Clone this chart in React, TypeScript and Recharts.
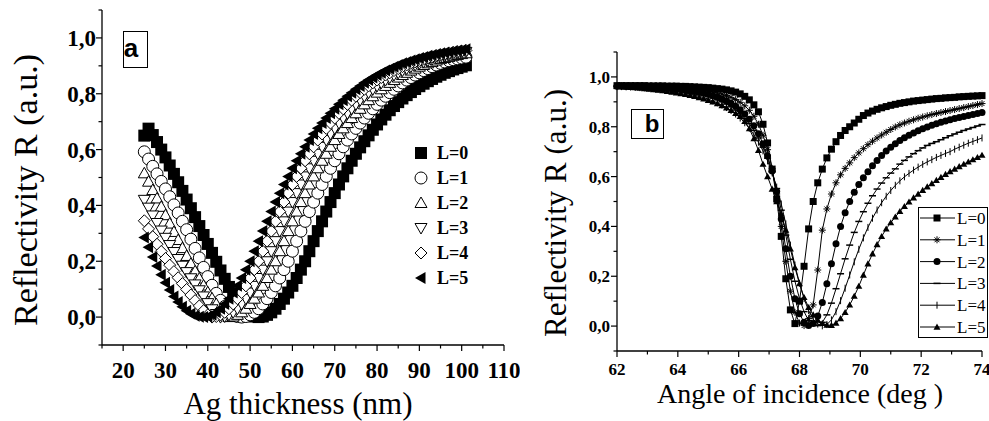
import React from "react";
import { LineChart, Line, XAxis, YAxis } from "recharts";

// ---- panel a : reflectivity vs Ag thickness ----
const thickness = [
  25, 26, 27, 28, 29, 30, 31, 32, 33, 34, 35, 36, 37, 38, 39, 40, 41, 42, 43, 44,
  45, 46, 47, 48, 49, 50, 51, 52, 53, 54, 55, 56, 57, 58, 59, 60, 61, 62, 63, 64,
  65, 66, 67, 68, 69, 70, 71, 72, 73, 74, 75, 76, 77, 78, 79, 80, 81, 82, 83, 84,
  85, 86, 87, 88, 89, 90, 91, 92, 93, 94, 95, 96, 97, 98, 99, 100, 101,
];

const reflA0 = [
  0.650, 0.675, 0.652, 0.627, 0.600, 0.572, 0.543, 0.513, 0.483, 0.452,
  0.421, 0.390, 0.358, 0.326, 0.294, 0.262, 0.230, 0.198, 0.167, 0.137,
  0.108, 0.081, 0.057, 0.036, 0.020, 0.008, 0.002, 0.000, 0.002, 0.008,
  0.017, 0.030, 0.047, 0.066, 0.088, 0.112, 0.140, 0.170, 0.200, 0.236,
  0.272, 0.308, 0.343, 0.378, 0.412, 0.444, 0.475, 0.504, 0.533, 0.560,
  0.585, 0.608, 0.630, 0.651, 0.671, 0.690, 0.708, 0.725, 0.741, 0.756,
  0.770, 0.783, 0.795, 0.806, 0.817, 0.827, 0.836, 0.845, 0.853, 0.861,
  0.868, 0.875, 0.881, 0.887, 0.892, 0.897, 0.902,
];
const reflA1 = [
  0.592, 0.566, 0.540, 0.513, 0.486, 0.459, 0.431, 0.402, 0.373, 0.343,
  0.313, 0.279, 0.246, 0.212, 0.178, 0.145, 0.114, 0.085, 0.060, 0.038,
  0.021, 0.009, 0.002, 0.000, 0.002, 0.008, 0.017, 0.030, 0.047, 0.066,
  0.088, 0.112, 0.140, 0.170, 0.200, 0.236, 0.272, 0.308, 0.343, 0.378,
  0.412, 0.444, 0.475, 0.504, 0.533, 0.560, 0.585, 0.610, 0.634, 0.656,
  0.676, 0.695, 0.713, 0.730, 0.746, 0.762, 0.777, 0.791, 0.804, 0.816,
  0.828, 0.839, 0.849, 0.858, 0.867, 0.875, 0.883, 0.890, 0.897, 0.903,
  0.909, 0.914, 0.918, 0.922, 0.925, 0.928, 0.931,
];
const reflA2 = [
  0.515, 0.485, 0.455, 0.425, 0.395, 0.365, 0.335, 0.305, 0.276, 0.247,
  0.219, 0.191, 0.164, 0.138, 0.113, 0.089, 0.067, 0.047, 0.027, 0.010,
  0.000, 0.002, 0.008, 0.017, 0.030, 0.047, 0.066, 0.088, 0.112, 0.140,
  0.170, 0.200, 0.236, 0.272, 0.308, 0.343, 0.378, 0.412, 0.444, 0.475,
  0.504, 0.533, 0.560, 0.585, 0.610, 0.634, 0.656, 0.676, 0.695, 0.713,
  0.730, 0.746, 0.762, 0.777, 0.791, 0.804, 0.816, 0.828, 0.839, 0.849,
  0.858, 0.867, 0.875, 0.883, 0.890, 0.897, 0.903, 0.909, 0.914, 0.919,
  0.924, 0.928, 0.932, 0.936, 0.939, 0.942, 0.945,
];
const reflA3 = [
  0.420, 0.392, 0.364, 0.337, 0.310, 0.284, 0.258, 0.233, 0.208, 0.184,
  0.161, 0.139, 0.117, 0.096, 0.074, 0.050, 0.028, 0.011, 0.000, 0.002,
  0.008, 0.017, 0.030, 0.047, 0.066, 0.088, 0.112, 0.140, 0.170, 0.200,
  0.236, 0.272, 0.308, 0.343, 0.378, 0.412, 0.444, 0.475, 0.504, 0.533,
  0.560, 0.585, 0.610, 0.634, 0.656, 0.676, 0.695, 0.713, 0.730, 0.746,
  0.762, 0.777, 0.791, 0.804, 0.816, 0.828, 0.839, 0.849, 0.858, 0.867,
  0.875, 0.883, 0.890, 0.897, 0.903, 0.909, 0.914, 0.919, 0.924, 0.928,
  0.932, 0.936, 0.939, 0.942, 0.945, 0.948, 0.950,
];
const reflA4 = [
  0.345, 0.316, 0.288, 0.261, 0.235, 0.210, 0.186, 0.163, 0.141, 0.120,
  0.099, 0.079, 0.059, 0.040, 0.023, 0.008, 0.000, 0.002, 0.008, 0.017,
  0.030, 0.047, 0.066, 0.088, 0.112, 0.140, 0.170, 0.200, 0.236, 0.272,
  0.308, 0.343, 0.378, 0.412, 0.444, 0.475, 0.504, 0.533, 0.560, 0.585,
  0.610, 0.634, 0.656, 0.676, 0.695, 0.713, 0.730, 0.746, 0.762, 0.777,
  0.791, 0.804, 0.816, 0.828, 0.839, 0.849, 0.858, 0.867, 0.875, 0.883,
  0.890, 0.897, 0.903, 0.909, 0.914, 0.919, 0.924, 0.928, 0.932, 0.936,
  0.939, 0.942, 0.945, 0.948, 0.950, 0.953, 0.955,
];
const reflA5 = [
  0.285, 0.250, 0.215, 0.183, 0.152, 0.123, 0.097, 0.074, 0.054, 0.037,
  0.023, 0.012, 0.005, 0.001, 0.000, 0.002, 0.008, 0.017, 0.030, 0.047,
  0.066, 0.088, 0.112, 0.140, 0.170, 0.200, 0.236, 0.272, 0.308, 0.343,
  0.378, 0.412, 0.444, 0.475, 0.504, 0.533, 0.560, 0.585, 0.610, 0.634,
  0.656, 0.676, 0.695, 0.713, 0.730, 0.746, 0.762, 0.777, 0.791, 0.804,
  0.816, 0.828, 0.839, 0.849, 0.858, 0.867, 0.875, 0.883, 0.890, 0.897,
  0.903, 0.909, 0.914, 0.919, 0.924, 0.928, 0.932, 0.936, 0.939, 0.942,
  0.945, 0.948, 0.950, 0.953, 0.955, 0.957, 0.959,
];

// ---- panel b : reflectivity vs angle of incidence ----
const angle = [
  62.0, 62.15, 62.3, 62.45, 62.6, 62.75, 62.9, 63.05, 63.2, 63.35,
  63.5, 63.65, 63.8, 63.95, 64.1, 64.25, 64.4, 64.55, 64.7, 64.85,
  65.0, 65.15, 65.3, 65.45, 65.6, 65.75, 65.9, 66.05, 66.2, 66.35,
  66.5, 66.65, 66.8, 66.95, 67.1, 67.25, 67.4, 67.55, 67.7, 67.85,
  68.0, 68.15, 68.3, 68.45, 68.6, 68.75, 68.9, 69.05, 69.2, 69.35,
  69.5, 69.65, 69.8, 69.95, 70.1, 70.25, 70.4, 70.55, 70.7, 70.85,
  71.0, 71.15, 71.3, 71.45, 71.6, 71.75, 71.9, 72.05, 72.2, 72.35,
  72.5, 72.65, 72.8, 72.95, 73.1, 73.25, 73.4, 73.55, 73.7, 73.85,
  74.0,
];

const reflB0 = [
  0.965, 0.965, 0.965, 0.965, 0.965, 0.965, 0.965, 0.964, 0.964, 0.964,
  0.964, 0.963, 0.963, 0.963, 0.962, 0.962, 0.961, 0.960, 0.959, 0.958,
  0.957, 0.955, 0.953, 0.951, 0.948, 0.944, 0.939, 0.932, 0.922, 0.908,
  0.888, 0.860, 0.810, 0.735, 0.630, 0.510, 0.360, 0.190, 0.065, 0.010,
  0.100, 0.240, 0.390, 0.500, 0.575, 0.630, 0.675, 0.710, 0.740, 0.765,
  0.785, 0.800, 0.815, 0.830, 0.845, 0.855, 0.863, 0.870, 0.876, 0.881,
  0.886, 0.890, 0.894, 0.897, 0.900, 0.903, 0.905, 0.907, 0.909, 0.911,
  0.913, 0.914, 0.916, 0.917, 0.918, 0.920, 0.921, 0.922, 0.923, 0.924,
  0.925,
];
const reflB1 = [
  0.964, 0.964, 0.964, 0.963, 0.963, 0.963, 0.962, 0.962, 0.961, 0.961,
  0.960, 0.959, 0.958, 0.957, 0.956, 0.955, 0.953, 0.951, 0.949, 0.946,
  0.943, 0.940, 0.936, 0.931, 0.925, 0.918, 0.909, 0.898, 0.884, 0.866,
  0.842, 0.810, 0.766, 0.708, 0.633, 0.530, 0.400, 0.260, 0.140, 0.055,
  0.012, 0.002, 0.030, 0.085, 0.225, 0.385, 0.470, 0.530, 0.575, 0.607,
  0.633, 0.655, 0.676, 0.695, 0.712, 0.728, 0.742, 0.755, 0.767, 0.778,
  0.789, 0.799, 0.808, 0.815, 0.822, 0.828, 0.834, 0.839, 0.844, 0.849,
  0.853, 0.857, 0.861, 0.865, 0.869, 0.873, 0.877, 0.881, 0.885, 0.889,
  0.893,
];
const reflB2 = [
  0.963, 0.963, 0.962, 0.962, 0.961, 0.961, 0.960, 0.959, 0.958, 0.957,
  0.956, 0.955, 0.953, 0.951, 0.949, 0.947, 0.944, 0.941, 0.938, 0.934,
  0.930, 0.925, 0.919, 0.912, 0.904, 0.894, 0.882, 0.868, 0.851, 0.830,
  0.804, 0.772, 0.732, 0.683, 0.622, 0.540, 0.430, 0.310, 0.200, 0.110,
  0.050, 0.015, 0.002, 0.010, 0.040, 0.095, 0.170, 0.250, 0.330, 0.400,
  0.455, 0.500, 0.537, 0.568, 0.595, 0.619, 0.643, 0.665, 0.685, 0.703,
  0.718, 0.732, 0.745, 0.756, 0.766, 0.775, 0.784, 0.792, 0.799, 0.806,
  0.812, 0.818, 0.823, 0.828, 0.833, 0.837, 0.841, 0.845, 0.849, 0.853,
  0.857,
];
const reflB3 = [
  0.962, 0.962, 0.961, 0.960, 0.960, 0.959, 0.958, 0.957, 0.956, 0.954,
  0.953, 0.951, 0.949, 0.947, 0.944, 0.941, 0.938, 0.934, 0.930, 0.926,
  0.921, 0.915, 0.908, 0.900, 0.891, 0.880, 0.867, 0.852, 0.834, 0.812,
  0.786, 0.755, 0.718, 0.674, 0.620, 0.552, 0.465, 0.365, 0.268, 0.180,
  0.110, 0.058, 0.022, 0.005, 0.002, 0.015, 0.045, 0.092, 0.150, 0.210,
  0.270, 0.325, 0.376, 0.420, 0.459, 0.493, 0.523, 0.550, 0.574, 0.595,
  0.614, 0.631, 0.650, 0.665, 0.679, 0.692, 0.704, 0.715, 0.725, 0.733,
  0.740, 0.748, 0.756, 0.764, 0.771, 0.778, 0.785, 0.791, 0.797, 0.803,
  0.809,
];
const reflB4 = [
  0.961, 0.961, 0.960, 0.959, 0.958, 0.957, 0.956, 0.954, 0.953, 0.951,
  0.949, 0.947, 0.944, 0.941, 0.938, 0.935, 0.931, 0.927, 0.922, 0.917,
  0.911, 0.904, 0.896, 0.887, 0.877, 0.865, 0.851, 0.835, 0.816, 0.794,
  0.768, 0.738, 0.703, 0.663, 0.615, 0.558, 0.490, 0.410, 0.325, 0.245,
  0.172, 0.110, 0.062, 0.028, 0.008, 0.001, 0.006, 0.025, 0.058, 0.102,
  0.152, 0.205, 0.258, 0.308, 0.354, 0.396, 0.433, 0.466, 0.495, 0.521,
  0.544, 0.565, 0.583, 0.599, 0.613, 0.626, 0.638, 0.649, 0.659, 0.668,
  0.677, 0.685, 0.693, 0.700, 0.710, 0.718, 0.726, 0.734, 0.741, 0.748,
  0.755,
];
const reflB5 = [
  0.962, 0.961, 0.960, 0.958, 0.957, 0.955, 0.953, 0.951, 0.949, 0.947,
  0.945, 0.942, 0.939, 0.936, 0.933, 0.930, 0.926, 0.922, 0.917, 0.912,
  0.906, 0.900, 0.893, 0.885, 0.876, 0.866, 0.854, 0.842, 0.822, 0.792,
  0.752, 0.705, 0.650, 0.600, 0.550, 0.500, 0.450, 0.385, 0.310, 0.235,
  0.170, 0.115, 0.075, 0.045, 0.024, 0.011, 0.004, 0.003, 0.012, 0.030,
  0.055, 0.085, 0.120, 0.160, 0.205, 0.250, 0.290, 0.327, 0.360, 0.390,
  0.415, 0.438, 0.460, 0.480, 0.498, 0.515, 0.530, 0.545, 0.559, 0.572,
  0.585, 0.597, 0.609, 0.620, 0.630, 0.640, 0.650, 0.659, 0.668, 0.677,
  0.686,
];

// tick positions
const ticksThick = [15, 20, 25, 30, 35, 40, 45, 50, 55, 60, 65, 70, 75, 80, 85, 90, 95, 100, 105, 110];
const ticksAngle = [62, 63, 64, 65, 66, 67, 68, 69, 70, 71, 72, 73, 74];
const ticksR = [-0.1, 0, 0.1, 0.2, 0.3, 0.4, 0.5, 0.6, 0.7, 0.8, 0.9, 1.0, 1.1];

const legendLabels = ["L=0", "L=1", "L=2", "L=3", "L=4", "L=5"];
const shapesA = ["square", "circle", "up", "down", "diamond", "left"];
const shapesB = ["square", "star", "dot", "dash", "bar", "triangle"];

const seriesA = [reflA0, reflA1, reflA2, reflA3, reflA4, reflA5];
const seriesB = [reflB0, reflB1, reflB2, reflB3, reflB4, reflB5];

const rowsA = thickness.map((t, i) => {
  const row: Record<string, number> = { t };
  seriesA.forEach((s, k) => (row[`l${k}`] = s[i]));
  return row;
});
const rowsB = angle.map((a, i) => {
  const row: Record<string, number> = { a };
  seriesB.forEach((s, k) => (row[`l${k}`] = s[i]));
  return row;
});

const SERIF = "'Liberation Serif', 'DejaVu Serif', 'Times New Roman', Times, serif";
const SANS = "'Liberation Sans', Arial, sans-serif";
const serif = { fontFamily: SERIF };
const sans = { fontFamily: SANS };

function Marker({ shape, x, y, s }: { shape: string; x: number; y: number; s: number }) {
  const h = s / 2;
  switch (shape) {
    case "square":
      return <rect x={x - h} y={y - h} width={s} height={s} fill="#000" />;
    case "circle":
      return <circle cx={x} cy={y} r={h} fill="#fff" stroke="#000" strokeWidth={1} />;
    case "dot":
      return <circle cx={x} cy={y} r={h} fill="#000" />;
    case "up":
      return (
        <polygon
          points={`${x},${y - h} ${x + h},${y + h * 0.75} ${x - h},${y + h * 0.75}`}
          fill="#fff"
          stroke="#000"
        />
      );
    case "triangle":
      return <polygon points={`${x},${y - h} ${x + h},${y + h * 0.75} ${x - h},${y + h * 0.75}`} fill="#000" />;
    case "down":
      return (
        <polygon
          points={`${x},${y + h} ${x + h},${y - h * 0.75} ${x - h},${y - h * 0.75}`}
          fill="#fff"
          stroke="#000"
        />
      );
    case "diamond":
      return <polygon points={`${x},${y - h} ${x + h},${y} ${x},${y + h} ${x - h},${y}`} fill="#fff" stroke="#000" />;
    case "left":
      return <polygon points={`${x - h},${y} ${x + h * 0.75},${y - h} ${x + h * 0.75},${y + h}`} fill="#000" />;
    case "star":
      return (
        <g stroke="#000" strokeWidth={1}>
          <line x1={x - h} y1={y} x2={x + h} y2={y} />
          <line x1={x} y1={y - h} x2={x} y2={y + h} />
          <line x1={x - h * 0.7} y1={y - h * 0.7} x2={x + h * 0.7} y2={y + h * 0.7} />
          <line x1={x - h * 0.7} y1={y + h * 0.7} x2={x + h * 0.7} y2={y - h * 0.7} />
        </g>
      );
    case "bar":
      return <line x1={x} y1={y - h} x2={x} y2={y + h} stroke="#000" strokeWidth={1} />;
    case "dash":
      return <line x1={x - h} y1={y} x2={x + h} y2={y} stroke="#000" strokeWidth={1.5} />;
    default:
      return null;
  }
}

const dotFor = (shape: string, size: number, tag: string) => (p: any) => (
  <Marker key={`${tag}-${p.index}`} shape={shape} x={p.cx} y={p.cy} s={size} />
);

const commaFmt = (v: number) => v.toFixed(1).replace(".", ",");
const isMajorR = (v: number) => {
  const k = Math.round(v * 10);
  return k >= 0 && k <= 10 && k % 2 === 0;
};

function makeXTick(isMajor: (v: number) => boolean, fontSize: number, dy: number) {
  return (p: any) => {
    const v = p.payload.value;
    const major = isMajor(v);
    return (
      <g>
        <line x1={p.x} x2={p.x} y1={p.y} y2={p.y + (major ? 6 : 3.5)} stroke="#000" strokeWidth={1.2} />
        {major && (
          <text x={p.x} y={p.y + dy} textAnchor="middle" style={serif} fontWeight="bold" fontSize={fontSize} fill="#000">
            {v}
          </text>
        )}
      </g>
    );
  };
}

function makeYTick(fontSize: number, gap: number, dy: number) {
  return (p: any) => {
    const v = p.payload.value;
    const major = isMajorR(v);
    return (
      <g>
        <line x1={p.x} x2={p.x - (major ? 6 : 3.5)} y1={p.y} y2={p.y} stroke="#000" strokeWidth={1.2} />
        {major && (
          <text x={p.x - gap} y={p.y + dy} textAnchor="end" style={serif} fontWeight="bold" fontSize={fontSize} fill="#000">
            {commaFmt(v)}
          </text>
        )}
      </g>
    );
  };
}

const axisStroke = { stroke: "#000", strokeWidth: 1.3 };

export default function App() {
  return (
    <div style={{ position: "absolute", left: 0, top: 0, width: 989, height: 421, background: "#fff", overflow: "hidden", fontFamily: SERIF }}>
      {/* panel a */}
      <div style={{ position: "absolute", left: 0, top: 0 }}>
        <LineChart width={520} height={421} data={rowsA} margin={{ top: 10, right: 16, left: 42, bottom: 36 }}>
          <XAxis
            dataKey="t"
            type="number"
            domain={[15, 110]}
            ticks={ticksThick}
            interval={0}
            height={40}
            tickSize={0}
            tickMargin={0}
            tickLine={false}
            axisLine={axisStroke}
            tick={makeXTick((v) => v % 10 === 0, 23, 33)}
          />
          <YAxis
            type="number"
            domain={[-0.1, 1.1]}
            ticks={ticksR}
            interval={0}
            width={60}
            tickSize={0}
            tickMargin={0}
            tickLine={false}
            axisLine={axisStroke}
            tick={makeYTick(23, 6, 8)}
          />
          {seriesA.map((_, k) => (
            <Line
              key={k}
              dataKey={`l${k}`}
              type="linear"
              stroke={k === 2 ? "#000" : "none"}
              strokeWidth={1}
              dot={dotFor(shapesA[k], 12, `a${k}`)}
              activeDot={false}
              isAnimationActive={false}
            />
          ))}
        </LineChart>
      </div>

      {/* panel b */}
      <div style={{ position: "absolute", left: 500, top: 0 }}>
        <LineChart width={489} height={421} data={rowsB} margin={{ top: 52, right: 7, left: 57, bottom: 30 }}>
          <XAxis
            dataKey="a"
            type="number"
            domain={[62, 74]}
            ticks={ticksAngle}
            interval={0}
            height={40}
            tickSize={0}
            tickMargin={0}
            tickLine={false}
            axisLine={axisStroke}
            tick={makeXTick((v) => v % 2 === 0, 17, 24)}
          />
          <YAxis
            type="number"
            domain={[-0.1, 1.1]}
            ticks={ticksR}
            interval={0}
            width={60}
            tickSize={0}
            tickMargin={0}
            tickLine={false}
            axisLine={axisStroke}
            tick={makeYTick(17, 7, 6)}
          />
          {seriesB.map((_, k) => (
            <Line
              key={k}
              dataKey={`l${k}`}
              type="linear"
              stroke="#000"
              strokeWidth={1}
              dot={dotFor(shapesB[k], 7, `b${k}`)}
              activeDot={false}
              isAnimationActive={false}
            />
          ))}
        </LineChart>
      </div>

      {/* titles, labels and legends */}
      <svg width={989} height={421} style={{ position: "absolute", left: 0, top: 0, pointerEvents: "none" }}>
        <text transform="translate(37,190) rotate(-90)" textAnchor="middle" style={serif} fontSize={34} fill="#000">
          Reflectivity R (a.u.)
        </text>
        <text x={298} y={414} textAnchor="middle" style={serif} fontSize={31} fill="#000">
          Ag thickness (nm)
        </text>
        <text transform="translate(566,213) rotate(-90)" textAnchor="middle" style={serif} fontSize={31} fill="#000">
          Reflectivity R (a.u.)
        </text>
        <text x={800} y={403} textAnchor="middle" style={serif} fontSize={28} fill="#000">
          Angle of incidence (deg )
        </text>

        <rect x={123.5} y={31.5} width={24} height={36} fill="#fff" stroke="#000" strokeWidth={1} />
        <text x={131} y={57} textAnchor="middle" style={sans} fontWeight="bold" fontSize={26} fill="#000">
          a
        </text>
        <rect x={631.5} y={109.5} width={32} height={29} fill="#fff" stroke="#000" strokeWidth={1} />
        <text x={652} y={132} textAnchor="middle" style={sans} fontWeight="bold" fontSize={24} fill="#000">
          b
        </text>

        {legendLabels.map((lab, i) => (
          <g key={`la${i}`}>
            <Marker shape={shapesA[i]} x={421} y={153 + i * 25} s={12} />
            <text x={437} y={159 + i * 25} style={serif} fontWeight="bold" fontSize={18} fill="#000">
              {lab}
            </text>
          </g>
        ))}

        <rect x={918.5} y={207.5} width={69} height={130} fill="#fff" stroke="#000" strokeWidth={1} />
        {legendLabels.map((lab, i) => (
          <g key={`lb${i}`}>
            <line x1={920} x2={955} y1={218 + i * 21.8} y2={218 + i * 21.8} stroke="#000" strokeWidth={1} />
            <Marker shape={shapesB[i]} x={937} y={218 + i * 21.8} s={7} />
            <text x={957} y={224 + i * 21.8} style={serif} fontSize={17} fill="#000">
              {lab}
            </text>
          </g>
        ))}
      </svg>
    </div>
  );
}
